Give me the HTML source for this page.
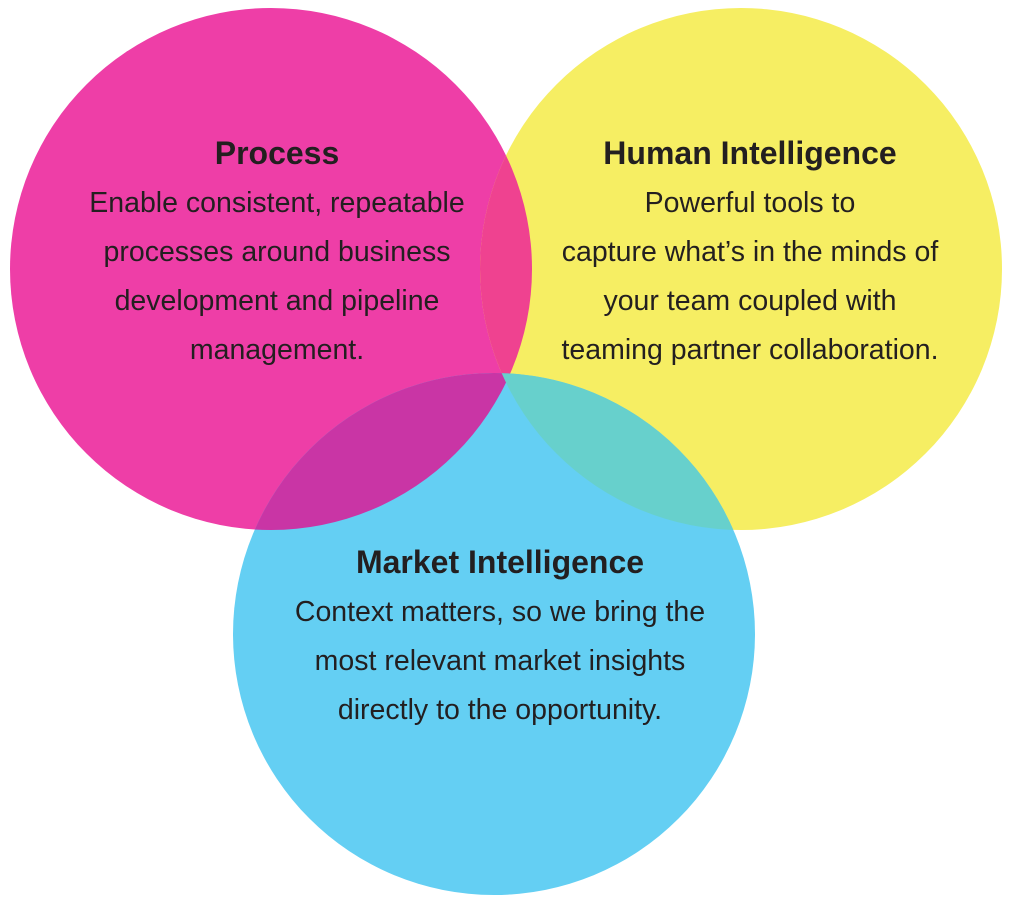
<!DOCTYPE html>
<html><head><meta charset="utf-8"><style>
html,body{margin:0;padding:0;background:#fff;}
svg{display:block;}
text{font-family:"Liberation Sans",sans-serif;fill:#231f20;text-anchor:middle;}
.t{font-weight:bold;font-size:32px;}
.b{font-size:28.5px;}
</style></head><body>
<svg width="1014" height="909" viewBox="0 0 1014 909" xmlns="http://www.w3.org/2000/svg">
<defs>
<clipPath id="cp"><circle cx="271" cy="269" r="261"/></clipPath>
<clipPath id="cy"><circle cx="741" cy="269" r="261"/></clipPath>
</defs>
<circle cx="271" cy="269" r="261" fill="#ee3ea7"/>
<circle cx="741" cy="269" r="261" fill="#f6ee63"/>
<circle cx="494" cy="634" r="261" fill="#64cff3"/>
<circle cx="741" cy="269" r="261" fill="#ef4290" clip-path="url(#cp)"/>
<circle cx="494" cy="634" r="261" fill="#c935a5" clip-path="url(#cp)"/>
<g clip-path="url(#cy)"><circle cx="494" cy="634" r="261" fill="#67d0cc"/></g>
<text class="t" x="277" y="164">Process</text>
<text class="b" x="277" y="212">Enable consistent, repeatable</text>
<text class="b" x="277" y="261">processes around business</text>
<text class="b" x="277" y="310">development and pipeline</text>
<text class="b" x="277" y="359">management.</text>
<text class="t" x="750" y="164">Human Intelligence</text>
<text class="b" x="750" y="212">Powerful tools to</text>
<text class="b" x="750" y="261">capture what’s in the minds of</text>
<text class="b" x="750" y="310">your team coupled with</text>
<text class="b" x="750" y="359">teaming partner collaboration.</text>
<text class="t" x="500" y="573">Market Intelligence</text>
<text class="b" x="500" y="621">Context matters, so we bring the</text>
<text class="b" x="500" y="670">most relevant market insights</text>
<text class="b" x="500" y="719">directly to the opportunity.</text>
</svg>
</body></html>
